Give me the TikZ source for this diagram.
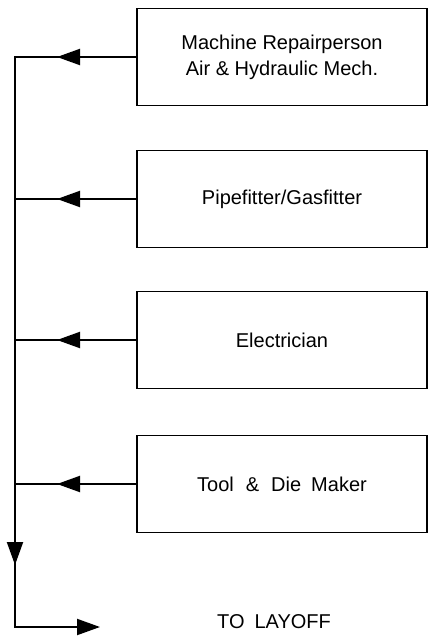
\documentclass[tikz,border=0pt]{standalone}
\usepackage{fontspec}
\setmainfont{Liberation Sans}
\usetikzlibrary{arrows.meta}
\begin{document}
\begin{tikzpicture}[x=1bp,y=-1bp,
  jobbox/.style={draw, line width=1.8bp, minimum width=290bp, minimum height=97bp,
    align=center, inner sep=0pt, font=\fontsize{20bp}{26bp}\selectfont},
  flow/.style={line width=2bp},
  tipline/.style={line width=2bp, -{Triangle[length=23bp,width=16bp]}},
  lbl/.style={font=\fontsize{20bp}{24bp}\selectfont, inner sep=0pt}]
\useasboundingbox (0,0) rectangle (428,636);
\node[jobbox] (b1) at (282,57) {Machine Repairperson\\Air \& Hydraulic Mech.};
\node[jobbox] (b2) at (282,199) {Pipefitter/Gasfitter};
\node[jobbox] (b3) at (282,340) {Electrician};
\node[jobbox] (b4) at (282,484) {Tool\hspace{0.6em}\&\hspace{0.6em}Die\hspace{0.5em}Maker};
\coordinate (j1) at (15,57);
\coordinate (j2) at (15,199);
\coordinate (j3) at (15,340);
\coordinate (j4) at (15,484);
\coordinate (t1) at (57,57);
\coordinate (t2) at (57,199);
\coordinate (t3) at (57,340);
\coordinate (t4) at (57,484);
\coordinate (down) at (15,565);
\coordinate (bend) at (15,627);
\coordinate (out) at (100,627);
\foreach \i in {1,2,3,4}{
  \draw[flow] (b\i.west) -- (j\i);
  \draw[tipline] (b\i.west) -- (t\i);
}
\draw[flow, line cap=rect] (j1) -- (bend);
\draw[tipline] (j1) -- (down);
\draw[tipline] (bend) -- (out);
\node[lbl, anchor=base] (lay) at (274,628) {TO\hspace{0.5em}LAYOFF};
\end{tikzpicture}
\end{document}
